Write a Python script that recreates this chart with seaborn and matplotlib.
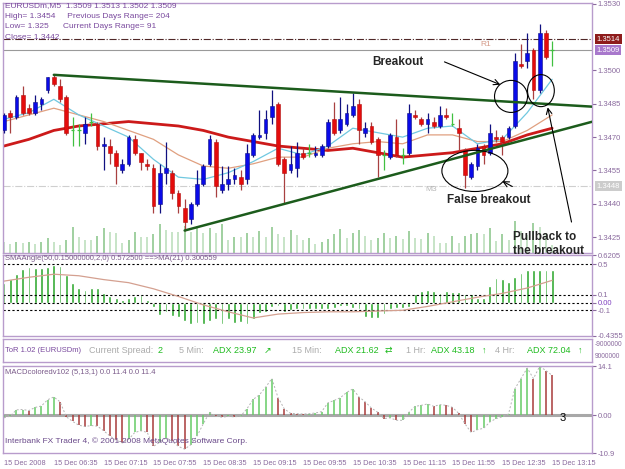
import numpy as np
import matplotlib
matplotlib.use("Agg")
import matplotlib.pyplot as plt
import matplotlib.transforms as mtrans
from matplotlib.patches import Ellipse
import seaborn as sns

sns.set_style("white")
plt.rcParams['font.family'] = ['Liberation Sans', 'DejaVu Sans']

# ---- price bars (EURUSDm M5) ----
opens = [1.3473, 1.3481, 1.3479, 1.3489, 1.3483, 1.3481, 1.3485, 1.3491, 1.3497, 1.3493,
         1.3488, 1.3473, 1.3473, 1.3472, 1.3477, 1.3476, 1.3466, 1.3466, 1.3463, 1.3455,
         1.3458, 1.3469, 1.3463, 1.3458, 1.3456, 1.3440, 1.3454, 1.3454, 1.3445, 1.3438,
         1.3433, 1.3440, 1.3449, 1.3458, 1.3468, 1.3446, 1.3449, 1.3451, 1.3452, 1.3451,
         1.3462, 1.3470, 1.3472, 1.3479, 1.3485, 1.3460, 1.3455, 1.3456, 1.3463, 1.3463,
         1.3462, 1.3462, 1.3466, 1.3478, 1.3473, 1.3476, 1.3480, 1.3485, 1.3472, 1.3475,
         1.3469, 1.3462, 1.3461, 1.3470, 1.3462, 1.3463, 1.3480, 1.3478, 1.3476, 1.3477,
         1.3475, 1.3480, 1.3476, 1.3474, 1.3464, 1.3452, 1.3457, 1.3466, 1.3463, 1.3470,
         1.3470, 1.3470, 1.3475, 1.3503, 1.3504, 1.3509, 1.3491, 1.3517, 1.3509]
highs = [1.3481, 1.3482, 1.3489, 1.3493, 1.3485, 1.3489, 1.3488, 1.3497, 1.3498, 1.3496,
         1.3489, 1.3479, 1.3476, 1.3479, 1.3481, 1.3477, 1.3470, 1.3469, 1.3464, 1.3460,
         1.3471, 1.3471, 1.3463, 1.3460, 1.3458, 1.3458, 1.3468, 1.3455, 1.3446, 1.3442,
         1.3441, 1.3455, 1.3458, 1.3471, 1.3469, 1.3457, 1.3457, 1.3456, 1.3455, 1.3467,
         1.3472, 1.3482, 1.3482, 1.3491, 1.3486, 1.3461, 1.3466, 1.3468, 1.3465, 1.3467,
         1.3466, 1.3467, 1.3478, 1.3486, 1.3488, 1.3485, 1.3490, 1.3487, 1.3477, 1.3477,
         1.3470, 1.3464, 1.3472, 1.3478, 1.3465, 1.3485, 1.3482, 1.3479, 1.3481, 1.3479,
         1.3484, 1.3483, 1.3481, 1.3478, 1.3465, 1.3459, 1.3467, 1.3467, 1.3476, 1.3473,
         1.3471, 1.3475, 1.3508, 1.3512, 1.3517, 1.3510, 1.3521, 1.3518, 1.3513]
lows = [1.3472, 1.3472, 1.3478, 1.3480, 1.3480, 1.3480, 1.3482, 1.3490, 1.3493, 1.3486,
        1.3471, 1.3466, 1.3466, 1.3467, 1.3475, 1.3464, 1.3455, 1.3458, 1.3449, 1.3454,
        1.3457, 1.3462, 1.3455, 1.3455, 1.3436, 1.3436, 1.3449, 1.3442, 1.3436, 1.3428,
        1.3431, 1.3439, 1.3448, 1.3457, 1.3443, 1.3445, 1.3446, 1.3449, 1.3446, 1.3449,
        1.3461, 1.3469, 1.3469, 1.3476, 1.3457, 1.3440, 1.3454, 1.3452, 1.3460, 1.3461,
        1.3461, 1.3461, 1.3465, 1.3471, 1.3472, 1.3475, 1.3479, 1.3467, 1.3470, 1.3467,
        1.3452, 1.3455, 1.3460, 1.3461, 1.3458, 1.3462, 1.3478, 1.3475, 1.3472, 1.3474,
        1.3474, 1.3478, 1.3475, 1.3464, 1.3447, 1.3451, 1.3455, 1.3458, 1.3462, 1.3468,
        1.3462, 1.3469, 1.3474, 1.3501, 1.3501, 1.3487, 1.3490, 1.3505, 1.3502]
closes = [1.3480, 1.3479, 1.3488, 1.3481, 1.3481, 1.3486, 1.3487, 1.3497, 1.3494, 1.3487,
          1.3472, 1.3473, 1.3473, 1.3476, 1.3477, 1.3466, 1.3467, 1.3463, 1.3457, 1.3458,
          1.3470, 1.3463, 1.3459, 1.3457, 1.3439, 1.3454, 1.3456, 1.3445, 1.3439, 1.3432,
          1.3440, 1.3449, 1.3457, 1.3469, 1.3448, 1.3449, 1.3451, 1.3453, 1.3449, 1.3463,
          1.3471, 1.3471, 1.3478, 1.3484, 1.3458, 1.3454, 1.3458, 1.3463, 1.3461, 1.3463,
          1.3463, 1.3466, 1.3477, 1.3472, 1.3478, 1.3481, 1.3484, 1.3473, 1.3474, 1.3468,
          1.3462, 1.3462, 1.3471, 1.3462, 1.3462, 1.3481, 1.3479, 1.3476, 1.3478, 1.3475,
          1.3480, 1.3479, 1.3476, 1.3472, 1.3453, 1.3458, 1.3465, 1.3462, 1.3472, 1.3469,
          1.3468, 1.3474, 1.3504, 1.3502, 1.3508, 1.3491, 1.3517, 1.3506, 1.3509]
volumes = [11, 9, 11, 10, 11, 9, 11, 15, 11, 8, 13, 26, 16, 13, 13, 17, 25, 21, 20, 10,
           13, 21, 16, 16, 19, 29, 23, 21, 21, 27, 21, 27, 20, 25, 20, 29, 13, 16, 16, 20,
           16, 22, 16, 26, 19, 16, 23, 18, 13, 15, 9, 11, 14, 19, 24, 15, 20, 23, 17, 13,
           15, 20, 15, 17, 14, 22, 15, 14, 20, 17, 10, 10, 17, 10, 17, 19, 20, 19, 25, 12,
           19, 13, 32, 22, 18, 30, 26, 20, 8]

# moving averages sampled every 4 bars
ma_bars = list(range(0, 89, 4))
ma_fast = [1.3478, 1.3481, 1.3487, 1.3480, 1.3475, 1.3470, 1.3460, 1.3452, 1.3451, 1.3454,
           1.3459, 1.3465, 1.3462, 1.3466, 1.3474, 1.3472, 1.3470, 1.3474, 1.3475, 1.3467,
           1.3469, 1.3481, 1.3496]
ma_mid = [1.3477, 1.3480, 1.3483, 1.3480, 1.3477, 1.3473, 1.3469, 1.3462, 1.3457, 1.3456,
          1.3458, 1.3461, 1.3461, 1.3465, 1.3467, 1.3468, 1.3467, 1.3471, 1.3471, 1.3468,
          1.3468, 1.3473, 1.3480]
ma_slow = [1.3466, 1.3469, 1.3473, 1.3475, 1.3476, 1.3477, 1.3476, 1.3475, 1.3473, 1.3470,
           1.3468, 1.3466, 1.3465, 1.3464, 1.3465, 1.3463, 1.3461, 1.3462, 1.3463, 1.3465,
           1.3467, 1.3471, 1.3474]

# trend lines (bar, price)
upper_trend = [(8, 1.3498), (94.4, 1.34837)]
lower_trend = [(29, 1.3428), (94.4, 1.34769)]

# SMAAngle histogram and its MA(21)
sma_angle = [0.26, 0.31, 0.37, 0.44, 0.46, 0.45, 0.45, 0.46, 0.49, 0.48,
             0.36, 0.26, 0.19, 0.17, 0.19, 0.19, 0.12, 0.08, 0.06, 0.04,
             0.06, 0.08, 0.10, 0.04, -0.06, -0.16, -0.12, -0.18, -0.19, -0.24,
             -0.28, -0.26, -0.28, -0.24, -0.21, -0.28, -0.22, -0.26, -0.25, -0.28,
             -0.22, -0.14, -0.12, -0.06, -0.04, -0.12, -0.10, -0.09, -0.09, -0.09,
             -0.09, -0.09, -0.09, -0.07, -0.04, -0.05, -0.07, -0.09, -0.19, -0.20,
             -0.20, -0.15, -0.09, -0.07, -0.07, -0.06, 0.11, 0.15, 0.17, 0.15,
             0.13, 0.15, 0.14, 0.14, 0.11, 0.11, 0.06, 0.06, 0.21, 0.32,
             0.31, 0.27, 0.33, 0.39, 0.42, 0.42, 0.42, 0.42, 0.42]
sma_ma = [0.28, 0.33, 0.37, 0.35, 0.30, 0.26, 0.18, 0.08, -0.03, -0.12, -0.20, -0.15,
          -0.13, -0.12, -0.12, -0.11, -0.10, -0.05, 0.01, 0.07, 0.12, 0.19, 0.29]

# MACD colored histogram
macd = [-0.8, -0.3, 1.5, 1.6, 1.3, 2.2, 2.6, 4.4, 5.2, 3.8,
        -0.5, -1.8, -2.9, -3.3, -3.0, -3.2, -4.5, -6.0, -7.2, -8.0,
        -7.0, -5.0, -4.5, -5.0, -9.0, -7.8, -6.5, -7.5, -9.0, -9.8,
        -8.5, -6.0, -2.5, 0.8, -0.3, -0.6, -0.4, -0.5, -0.3, 1.8,
        4.5, 5.8, 8.0, 10.5, 5.0, 1.8, 0.5, 0.4, 0.3, 0.4,
        0.6, 1.0, 3.5, 4.2, 5.0, 6.5, 7.5, 5.2, 3.8, 2.0,
        0.8, -1.0, -0.8, -1.5, -1.5, 0.8, 2.5, 2.8, 3.2, 2.5,
        3.0, 2.8, 2.2, 0.5, -2.5, -5.0, -4.2, -3.8, -2.0, -1.0,
        -0.5, 0.3, 7.5, 10.5, 13.5, 10.5, 14.0, 12.8, 11.4]

date_labels = ["15 Dec 2008", "15 Dec 06:35", "15 Dec 07:15", "15 Dec 07:55",
               "15 Dec 08:35", "15 Dec 09:15", "15 Dec 09:55", "15 Dec 10:35",
               "15 Dec 11:15", "15 Dec 11:55", "15 Dec 12:35", "15 Dec 13:15"]

price_ticks = [1.3530, 1.3500, 1.3485, 1.3470, 1.3455, 1.3440, 1.3425]

# ---- figure ----
W, H = 625, 469
fig = plt.figure(figsize=(W / 100, H / 100), dpi=100)
frame = '#b89ccc'
tick_col = '#8a6a9e'


def panel(x0, y0, x1, y1):
    a = fig.add_axes([x0 / W, 1 - y1 / H, (x1 - x0) / W, (y1 - y0) / H])
    for s in a.spines.values():
        s.set_color(frame)
        s.set_linewidth(1)
    a.set_xlim(-0.16, 94.4)
    a.set_xticks([])
    return a


def right_ticks(a):
    a.yaxis.tick_right()
    a.tick_params(axis='y', which='both', left=False, labelleft=False, right=True,
                  labelright=True, length=3, width=0.8, color=tick_col, labelsize=5.5,
                  labelcolor=tick_col, pad=1)


ax = panel(3, 3, 592, 253)
ax_sma = panel(3, 255, 592, 336)
ax_tor = panel(3, 339, 592, 362)
ax_macd = panel(3, 366, 592, 453)

o, h, l, c = map(np.array, (opens, highs, lows, closes))
bars = np.arange(len(o))

# volumes behind the candles
axv = ax.twinx()
axv.set_ylim(0, 250)
axv.axis('off')
vol = np.array(volumes)
vol_col = ['#86c486' if i > 0 and vol[i] > vol[i - 1] else '#b8dcb8' for i in range(len(vol))]
axv.vlines(bars, 0, vol, colors=vol_col, lw=1.1)
ax.set_zorder(axv.get_zorder() + 1)
ax.patch.set_visible(False)

ax.set_ylim(1.34179, 1.35303)
ax.set_yticks(price_ticks)
ax.set_yticklabels([f'{p:.4f}' for p in price_ticks])
right_ticks(ax)

# horizontal levels
ax.axhline(1.3514, color='#502828', lw=0.8, ls='-.')
ax.axhline(1.3509, color='#9a9a9a', lw=0.8)
ax.axhline(1.3448, color='#cfcfcf', lw=0.8, ls='-.')
ax.text(76.4, 1.35116, 'R1', fontsize=6, color='#d49a88', va='center')
ax.text(67.6, 1.34463, 'M3', fontsize=6, color='#b8b8b8', va='center')

# moving averages
sns.lineplot(x=ma_bars, y=ma_slow, ax=ax, color='#cc1a1a', lw=2, estimator=None)
sns.lineplot(x=ma_bars, y=ma_mid, ax=ax, color='#e0a080', lw=0.9, estimator=None)
sns.lineplot(x=ma_bars, y=ma_fast, ax=ax, color='#70c8e0', lw=0.9, estimator=None)

# candles
up = c > o
dn = c < o
dj = np.isclose(c, o)
ax.vlines(bars[up], l[up], h[up], color='#101080', lw=0.9, zorder=3)
ax.bar(bars[up], (c - o)[up], bottom=o[up], width=0.6, color='#0a0ae8',
       edgecolor='#101080', lw=0.4, zorder=4)
ax.vlines(bars[dn], l[dn], h[dn], color='#a84040', lw=0.9, zorder=3)
ax.bar(bars[dn], (o - c)[dn], bottom=c[dn], width=0.6, color='#e40c0c',
       edgecolor='#b01010', lw=0.4, zorder=4)
ax.vlines(bars[dj], l[dj], h[dj], color='#40c040', lw=0.9, zorder=3)
ax.hlines(c[dj], bars[dj] - 0.3, bars[dj] + 0.3, color='#40c040', lw=0.9, zorder=3)

# trend lines
for tl in (upper_trend, lower_trend):
    ax.plot([tl[0][0], tl[1][0]], [tl[0][1], tl[1][1]], color='#1c5c1c', lw=1.8, zorder=5)

# right-axis price boxes
btr = mtrans.blended_transform_factory(ax.transAxes, ax.transData)
for val, bg in ((1.3514, '#8e1c1c'), (1.3509, '#a878cc'), (1.3448, '#cccccc')):
    ax.text(1.008, val, f'{val:.4f}', transform=btr, fontsize=5.5, color='white',
            va='center', ha='left', zorder=10,
            bbox=dict(boxstyle='square,pad=0.2', fc=bg, ec='none'))

# header
hdr = ['EURUSDm,M5  1.3509 1.3513 1.3502 1.3509',
       'High= 1.3454     Previous Days Range= 204',
       'Low= 1.325      Current Days Range= 91',
       'Close= 1.3442']
for k, line in enumerate(hdr):
    ax.text(0.004, 0.988 - 0.042 * k, line, transform=ax.transAxes, fontsize=6,
            color='#7a4a9e', va='center')

# annotations
for cx, cy, w, hh in ((81.4, 1.34883, 5.3, 0.00144), (86.2, 1.34909, 4.3, 0.00144),
                      (75.6, 1.34548, 10.6, 0.00185)):
    ax.add_patch(Ellipse((cx, cy), w, hh, fill=False, ec='black', lw=0.8, zorder=6))
arrow = dict(arrowstyle='->', color='black', lw=0.8)
ax.annotate('', xy=(80.1, 1.34931), xytext=(70.3, 1.35043), arrowprops=arrow, zorder=6)
ax.annotate('', xy=(79.6, 1.34508), xytext=(82.0, 1.34472), arrowprops=arrow, zorder=6)
ax.annotate('', xy=(87.2, 1.34846), xytext=(91.2, 1.34306), arrowprops=arrow,
            zorder=6, annotation_clip=False)
fig.text(372 / W, 1 - 62 / H, 'Breakout', fontsize=8.5, fontweight='bold', va='center')
fig.text(447 / W, 1 - 200 / H, 'False breakout', fontsize=8.5, fontweight='bold', va='center')
fig.text(513 / W, 1 - 244 / H, 'Pullback to\nthe breakout', fontsize=8.5,
         fontweight='bold', va='center', linespacing=1.15, zorder=20)

# ---- SMAAngle panel ----
ax_sma.set_ylim(-0.4355, 0.6205)
for v in (0.5, 0.1, 0.0, -0.1):
    ax_sma.axhline(v, color='black', lw=0.8, ls=(0, (2, 2)))
ax_sma.bar(bars, sma_angle, width=0.45, color='#33aa33')
sns.lineplot(x=ma_bars, y=sma_ma, ax=ax_sma, color='#d4a090', lw=0.9, estimator=None)
ax_sma.set_yticks([0.6205, 0.5, 0.1, 0.0, -0.1, -0.4355])
ax_sma.set_yticklabels(['0.6205', '0.5', '0.1', '0.00', '-0.1', '-0.4355'])
right_ticks(ax_sma)
ax_sma.get_yticklabels()[3].set_color('#8040c0')
ax_sma.set_ylabel('')
ax_sma.text(0.004, 0.955, 'SMAAngle(50,0.15000000,2,0) 0.572500 ==>MA(21) 0.300559',
            transform=ax_sma.transAxes, fontsize=5.5, color='#7a5a8a', va='center')

# ---- ToR panel ----
ax_tor.set_ylim(0, 1)
ax_tor.set_yticks([])
gray, green = '#ababab', '#1fbb1f'
tor_items = [(5, 'ToR 1.02 (EURUSDm)', '#7a4a9e', 5.5),
             (89, 'Current Spread:', gray, 6.5), (158, '2', green, 6.5),
             (179, '5 Min:', gray, 6.5), (213, 'ADX 23.97', green, 6.5), (264, '↗', green, 6.5),
             (292, '15 Min:', gray, 6.5), (335, 'ADX 21.62', green, 6.5), (385, '⇄', green, 6.5),
             (406, '1 Hr:', gray, 6.5), (431, 'ADX 43.18', green, 6.5), (482, '↑', green, 6.5),
             (495, '4 Hr:', gray, 6.5), (527, 'ADX 72.04', green, 6.5), (578, '↑', green, 6.5)]
for xp, txt, col, fs in tor_items:
    ax_tor.text((xp - 3) / 589, 0.5, txt, transform=ax_tor.transAxes, fontsize=fs,
                color=col, va='center', ha='left')
ax_tor.text(1.004, 0.78, '-9000000', transform=ax_tor.transAxes, fontsize=4.8,
            color=tick_col, va='center')
ax_tor.text(1.004, 0.22, '9000000', transform=ax_tor.transAxes, fontsize=4.8,
            color=tick_col, va='center')

# ---- MACD panel ----
ax_macd.set_ylim(-10.9, 14.1)
ax_macd.axhline(0, color='#a8a8a8', lw=2.2)
mv = np.array(macd)
mcol = ['#66cc66' if i == 0 or mv[i] >= mv[i - 1] else '#a83a3a' for i in range(len(mv))]
ax_macd.vlines(bars, 0, mv, colors=mcol, lw=1.1)
sns.lineplot(x=bars, y=mv, ax=ax_macd, color='#b4b4b4', lw=0.7, ls=(0, (2, 2)),
             estimator=None)
ax_macd.set_yticks([14.1, 0.0, -10.9])
ax_macd.set_yticklabels(['14.1', '0.00', '-10.9'])
right_ticks(ax_macd)
ax_macd.set_ylabel('')
ax_macd.set_xticks(range(0, 89, 8))
ax_macd.set_xticklabels(date_labels)
ax_macd.tick_params(axis='x', length=3, width=0.8, color=tick_col, labelsize=5.3,
                    labelcolor=tick_col, pad=2)
for lab in ax_macd.get_xticklabels():
    lab.set_horizontalalignment('left')
ax_macd.text(0.004, 0.92, 'MACDcoloredv102 (5,13,1) 0.0 11.4 0.0 11.4',
             transform=ax_macd.transAxes, fontsize=5.5, color='#7a5a8a', va='center')
ax_macd.text(0.004, 0.14, 'Interbank FX Trader 4, © 2001-2008 MetaQuotes Software Corp.',
             transform=ax_macd.transAxes, fontsize=6, color='#6a4a8a', va='center')
ax_macd.text(557 / 589, 0.40, '3', transform=ax_macd.transAxes, fontsize=8, color='black',
             va='center')

for a in (ax, ax_sma, ax_macd):
    a.set_xlabel('')
ax.set_ylabel('')
ax.set_xlim(-0.16, 94.4)

fig.savefig('out.png', dpi=100)
